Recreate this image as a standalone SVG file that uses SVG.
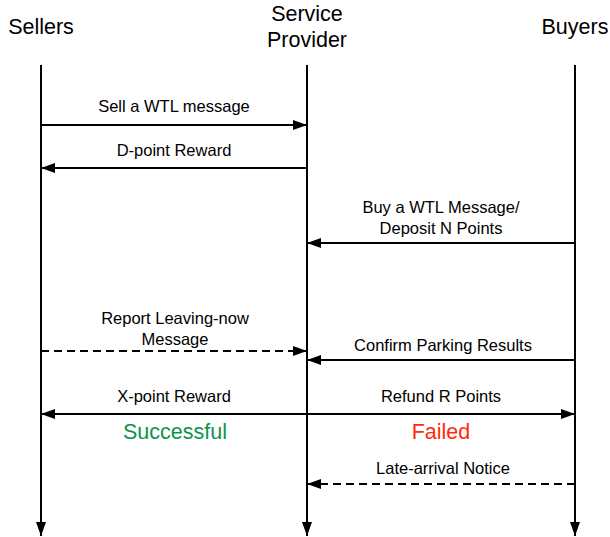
<svg xmlns="http://www.w3.org/2000/svg" width="610" height="537" viewBox="0 0 610 537">
  <style>
    .hdr { font-family: "Liberation Sans", Arial, sans-serif; font-size: 21.5px; fill: #000; text-anchor: middle; }
    .lbl { font-family: "Liberation Sans", Arial, sans-serif; font-size: 16.5px; fill: #000; text-anchor: middle; }
    .res { font-family: "Liberation Sans", Arial, sans-serif; font-size: 21.5px; text-anchor: middle; }
    .life { stroke: #000; stroke-width: 2; fill: none; marker-end: url(#head); }
    .msg { stroke: #000; stroke-width: 2; fill: none; }
    .dash { stroke-dasharray: 8 5; }
  </style>
  <defs>
    <marker id="head" viewBox="0 0 14 10" refX="14" refY="5" markerWidth="14" markerHeight="10" markerUnits="userSpaceOnUse" orient="auto">
      <path d="M0,0 L14,5 L0,10 Z" fill="#000"/>
    </marker>
    <marker id="tail" viewBox="0 0 14 10" refX="0" refY="5" markerWidth="14" markerHeight="10" markerUnits="userSpaceOnUse" orient="auto">
      <path d="M14,0 L0,5 L14,10 Z" fill="#000"/>
    </marker>
  </defs>

  <!-- participants with their lifelines -->
  <g id="sellers">
    <text class="hdr" x="41" y="34">Sellers</text>
    <line class="life" x1="41" y1="65" x2="41" y2="536"/>
  </g>
  <g id="provider">
    <text class="hdr" x="307" y="21">Service</text>
    <text class="hdr" x="307" y="47">Provider</text>
    <line class="life" x1="307" y1="65" x2="307" y2="536"/>
  </g>
  <g id="buyers">
    <text class="hdr" x="575" y="34">Buyers</text>
    <line class="life" x1="575" y1="65" x2="575" y2="536"/>
  </g>

  <!-- messages -->
  <g id="connectors">
    <line class="msg" x1="41" y1="125" x2="307" y2="125" marker-end="url(#head)"/>
    <line class="msg" x1="307" y1="168" x2="41" y2="168" marker-end="url(#head)"/>
    <line class="msg" x1="575" y1="243" x2="307" y2="243" marker-end="url(#head)"/>
    <line class="msg dash" x1="41" y1="351" x2="307" y2="351" marker-end="url(#head)"/>
    <line class="msg" x1="575" y1="360" x2="307" y2="360" marker-end="url(#head)"/>
    <line class="msg" x1="41" y1="414" x2="575" y2="414" marker-start="url(#tail)" marker-end="url(#head)"/>
    <line class="msg dash" x1="575" y1="484" x2="307" y2="484" marker-end="url(#head)"/>
  </g>

  <!-- message labels -->
  <g id="labels">
    <text class="lbl" x="174" y="112">Sell a WTL message</text>
    <text class="lbl" x="174" y="156">D-point Reward</text>
    <text class="lbl" x="441" y="213">Buy a WTL Message/</text>
    <text class="lbl" x="441" y="234">Deposit N Points</text>
    <text class="lbl" x="175" y="324">Report Leaving-now</text>
    <text class="lbl" x="175" y="345">Message</text>
    <text class="lbl" x="443" y="351">Confirm Parking Results</text>
    <text class="lbl" x="174" y="402">X-point Reward</text>
    <text class="lbl" x="441" y="402">Refund R Points</text>
    <text class="res" x="175" y="439" fill="#0c9449">Successful</text>
    <text class="res" x="441" y="439" fill="#ff2a0a">Failed</text>
    <text class="lbl" x="443" y="474">Late-arrival Notice</text>
  </g>
</svg>
